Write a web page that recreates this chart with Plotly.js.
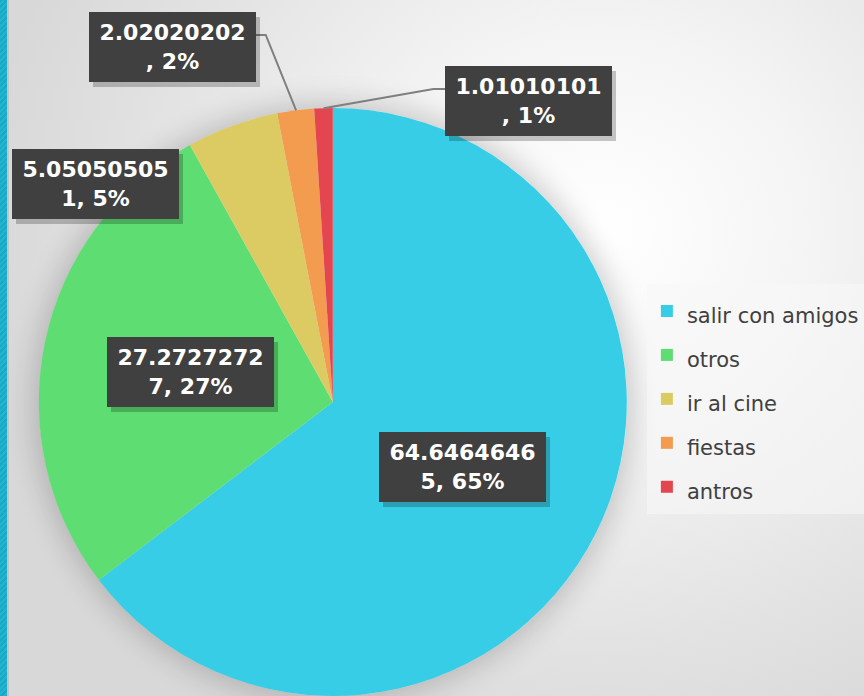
<!DOCTYPE html>
<html>
<head>
<meta charset="utf-8">
<script src="https://cdn.plot.ly/plotly-3.0.1.min.js"></script>
<style>
  html, body { margin: 0; padding: 0; }
  body {
    width: 864px; height: 696px; overflow: hidden; position: relative;
    background: radial-gradient(ellipse 620px 560px at 600px 230px, #ffffff 0%, #f4f4f4 35%, #e2e2e2 75%, #d8d8d8 100%);
  }
  #stripe { position: absolute; left: 0; top: 0; width: 7px; height: 696px;
    background: repeating-linear-gradient(135deg, #19a9c6 0px, #19a9c6 2px, #22b4d0 2px, #22b4d0 4px); }
  #stripe2 { position: absolute; left: 7px; top: 0; width: 2px; height: 696px; background: #c4c4c4; }
  #shadow { position: absolute; left: 39px; top: 108px; width: 588px; height: 588px; border-radius: 50%;
    box-shadow: 0 0 28px 6px rgba(0,0,0,0.18); }
  #chart { position: absolute; left: 0; top: 0; width: 864px; height: 696px; }
</style>
</head>
<body>
<div id="stripe"></div><div id="stripe2"></div>
<div id="shadow"></div>
<div id="chart"></div>
<script>
// ---- data ----
const categories = ["salir con amigos", "otros", "ir al cine", "fiestas", "antros"];
const values = [64.64646465, 27.27272727, 5.050505051, 2.02020202, 1.01010101];
const colors = ["#38cde6", "#5edd72", "#dccb62", "#f39c50", "#e3464f"];

// ---- layout geometry (pixels) ----
const W = 864, H = 696;
const DX = 4.5;              // small render offset correction
const CX = 333, CY = 402, R = 294;
const BOX_W = 167, BOX_H = 70;
const labelPlacement = [
  {mode: "inside"},
  {mode: "inside"},
  {mode: "box", cx: 92, cy: 184},
  {mode: "box", cx: 170, cy: 47, leader: "right", elbow: [265, 35]},
  {mode: "box", cx: 531, cy: 101, leader: "left", elbow: [435, 89]}
];

const px = x => (x + DX) / W;
const py = y => 1 - y / H;

const total = values.reduce((a, b) => a + b, 0);
let cum = 0;
const annotations = [];
const shapes = [];
values.forEach((v, i) => {
  const frac = v / total;
  const mid = (cum + frac / 2) * 2 * Math.PI; // clockwise from 12 o'clock
  cum += frac;
  const pct = Math.round(frac * 100);
  const full = String(v) + ", " + pct + "%";
  const text = full.slice(0, 10) + "<br>" + full.slice(10);
  const p = labelPlacement[i];
  let bx, by;
  if (p.mode === "inside") {
    bx = CX + 0.5 * R * Math.sin(mid);
    by = CY - 0.5 * R * Math.cos(mid);
  } else {
    bx = p.cx; by = p.cy;
  }
  annotations.push({
    xref: "paper", yref: "paper", x: px(bx + 4), y: py(by + 5),
    xanchor: "center", yanchor: "middle", showarrow: false, text: " ",
    width: BOX_W - 4, height: BOX_H - 4, borderpad: 2, borderwidth: 0,
    bgcolor: "rgba(0,0,0,0.22)"
  });
  annotations.push({
    xref: "paper", yref: "paper", x: px(bx), y: py(by),
    xanchor: "center", yanchor: "middle", showarrow: false, text: text,
    width: BOX_W - 4, height: BOX_H - 4, borderpad: 2, borderwidth: 0,
    bgcolor: "#404040",
    font: {family: "DejaVu Sans", size: 22, color: "#ffffff", weight: "bold"}
  });
  if (p.leader) {
    const ex = CX + R * Math.sin(mid), ey = CY - R * Math.cos(mid);
    const edgeX = p.leader === "right" ? bx + BOX_W / 2 : bx - BOX_W / 2;
    shapes.push({
      type: "path", xref: "paper", yref: "paper",
      path: `M ${px(ex)},${py(ey)} L ${px(p.elbow[0])},${py(p.elbow[1])} L ${px(edgeX)},${py(p.elbow[1])}`,
      line: {color: "#7f7f7f", width: 2}
    });
  }
});

const trace = {
  type: "pie",
  labels: categories.map(c => '<span style="font-size:21px">' + c + '</span>'),
  values: values,
  sort: false,
  direction: "clockwise",
  rotation: 0,
  textinfo: "none",
  hoverinfo: "label+value+percent",
  marker: {colors: colors, line: {width: 0}},
  domain: {x: [px(CX - R - 20), px(CX + R + 20)], y: [0, (2 * R) / H]}
};

const layout = {
  width: W, height: H,
  margin: {l: 0, r: 0, t: 0, b: 0},
  paper_bgcolor: "rgba(0,0,0,0)",
  plot_bgcolor: "rgba(0,0,0,0)",
  showlegend: true,
  legend: {
    x: 656 / W, y: py(284), xanchor: "left", yanchor: "top",
    bgcolor: "rgba(248,248,248,0.55)",
    font: {family: "DejaVu Sans", size: 31.5, color: "#404040"},
    itemwidth: 30
  },
  annotations: annotations,
  shapes: shapes
};

Plotly.newPlot("chart", [trace], layout, {displayModeBar: false, staticPlot: true});
</script>
</body>
</html>
